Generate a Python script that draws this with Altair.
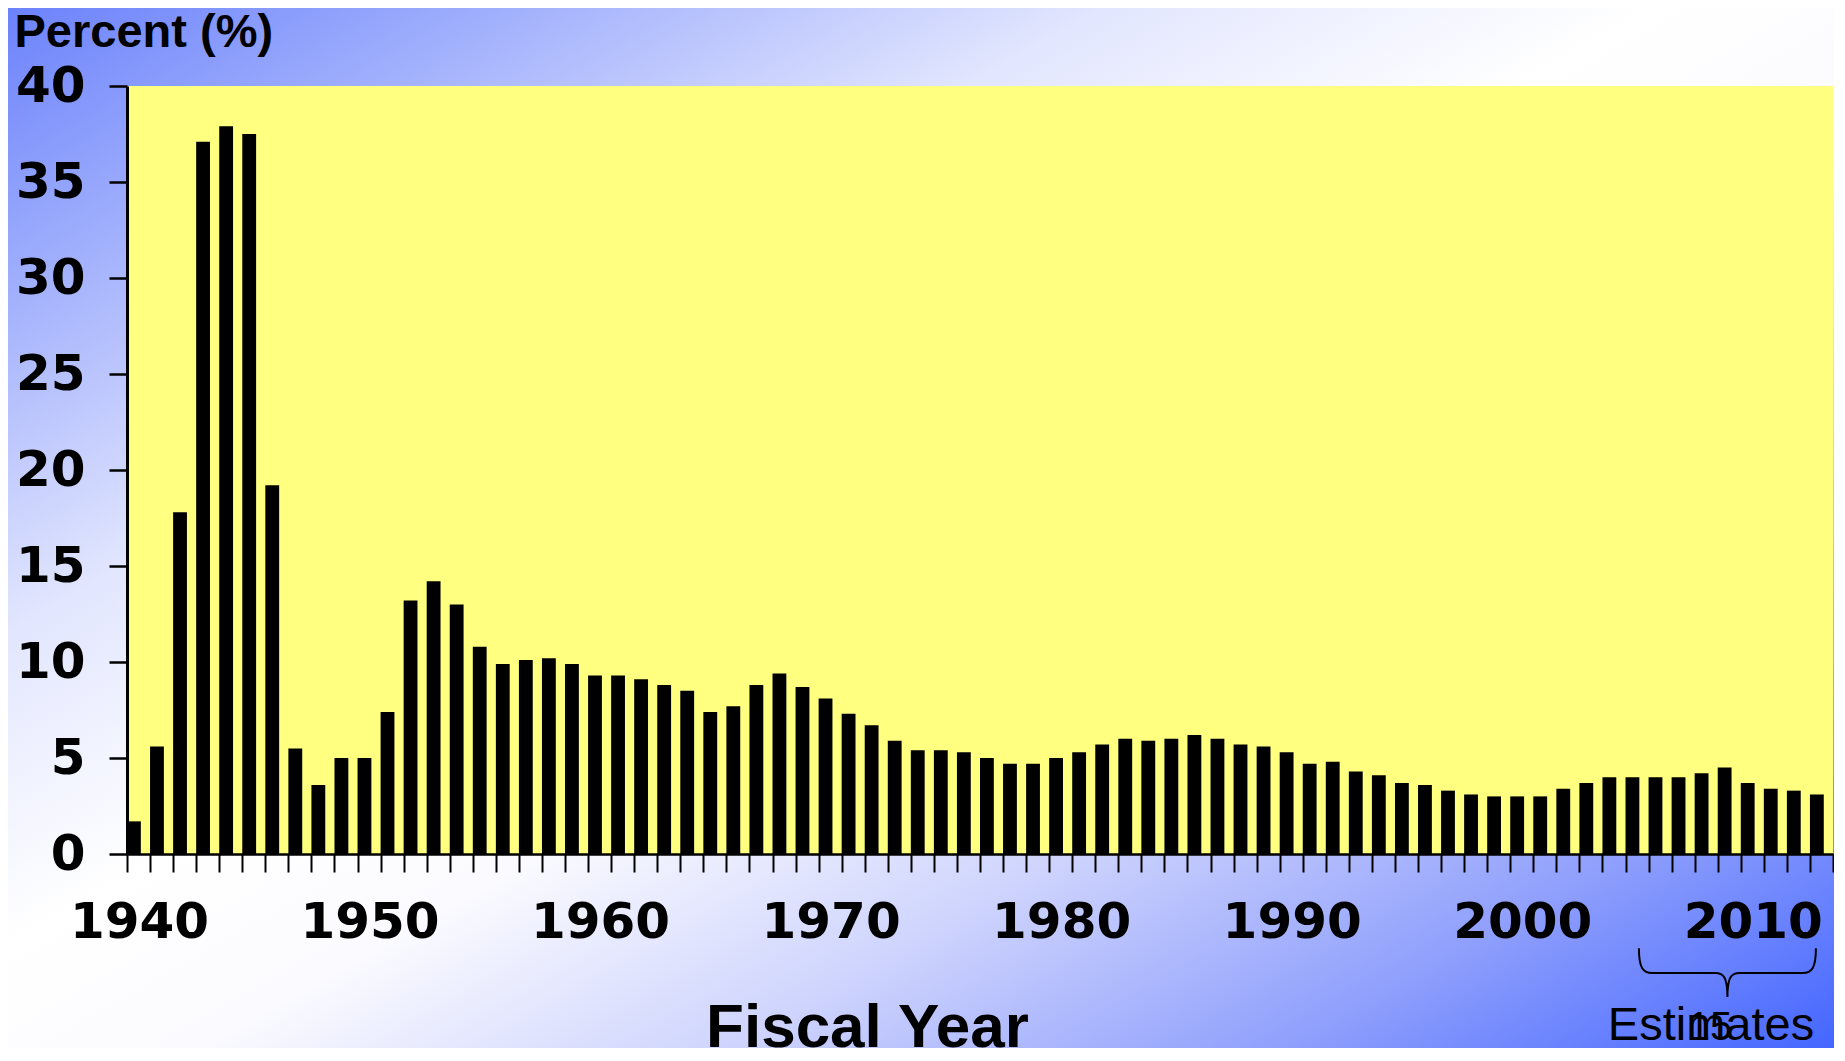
import altair as alt
import pandas as pd

# ---- data ----
years = list(range(1940, 2014))
pct = [1.7, 5.6, 17.8, 37.1, 37.9, 37.5, 19.2, 5.5, 3.6, 5.0,
       5.0, 7.4, 13.2, 14.2, 13.0, 10.8, 9.9, 10.1, 10.2, 9.9,
       9.3, 9.3, 9.1, 8.8, 8.5, 7.4, 7.7, 8.8, 9.4, 8.7,
       8.1, 7.3, 6.7, 5.9, 5.4, 5.4, 5.3, 5.0, 4.7, 4.7,
       5.0, 5.3, 5.7, 6.0, 5.9, 6.0, 6.2, 6.0, 5.7, 5.6,
       5.3, 4.7, 4.8, 4.3, 4.1, 3.7, 3.6, 3.3, 3.1, 3.0,
       3.0, 3.0, 3.4, 3.7, 4.0, 4.0, 4.0, 4.0, 4.2, 4.5,
       3.7, 3.4, 3.3, 3.1]
x_tick_years = list(range(1940, 2015))
y_ticks = list(range(0, 41, 5))
estimates_center_year = [2009.42]

# ---- layout ----
W, H = 1706, 768
PAD_L, PAD_T, PAD_R, PAD_B = 119, 78, 1, 194

df = pd.DataFrame({"year": years, "pct": pct})
df["x0"] = df["year"]
df["x1"] = df["year"] + 0.6

xscale = alt.Scale(domain=[1940, 2014], nice=False, zero=False)
yscale = alt.Scale(domain=[0, 40], nice=False, zero=True)

one = pd.DataFrame({"k": [0]})

grad = alt.Gradient(
    gradient="linear", x1=0, y1=0, x2=1, y2=1,
    stops=[
        alt.GradientStop(color="#6c82fb", offset=0),
        alt.GradientStop(color="#9aaafc", offset=0.12),
        alt.GradientStop(color="#e2e6fe", offset=0.3),
        alt.GradientStop(color="#ffffff", offset=0.45),
        alt.GradientStop(color="#fbfbff", offset=0.55),
        alt.GradientStop(color="#cdd3fd", offset=0.7),
        alt.GradientStop(color="#8f9ffc", offset=0.85),
        alt.GradientStop(color="#4466ff", offset=1),
    ],
)

bg = alt.Chart(one).mark_rect(fill=grad).encode(
    x=alt.value(-PAD_L), x2=alt.value(W + PAD_R),
    y=alt.value(-PAD_T), y2=alt.value(H + PAD_B),
)

plotbg = alt.Chart(one).mark_rect(fill="#ffff80").encode(
    x=alt.value(0), x2=alt.value(W), y=alt.value(0), y2=alt.value(H),
)

xaxis = alt.Axis(
    values=x_tick_years,
    labelExpr="datum.value % 10 == 0 ? '' + datum.value : ''",
    tickSize=18, tickWidth=2, tickColor="black",
    domainColor="black", domainWidth=2.5,
    labelFont="DejaVu Sans", labelFontWeight="bold", labelFontSize=50,
    labelColor="black", labelPadding=25, labelOffset=12,
    labelOverlap=False, labelFlush=False, grid=False,
    title="Fiscal Year", titleFont="Liberation Sans", titleFontSize=62,
    titleFontWeight="bold", titleColor="black",
    titleX=740, titleY=192, titleAlign="center", titleBaseline="alphabetic",
    zindex=1,
)

yaxis = alt.Axis(
    values=y_ticks,
    tickSize=18, tickWidth=2.5, tickColor="black",
    domainColor="black", domainWidth=3,
    labelFont="DejaVu Sans", labelFontWeight="bold", labelFontSize=50,
    labelColor="black", labelPadding=24, labelFlush=False, grid=False,
    title="Percent (%)", titleFont="Liberation Sans", titleFontSize=47,
    titleFontWeight="bold", titleColor="black", titleAngle=0,
    titleAlign="left", titleBaseline="alphabetic", titleX=-113, titleY=-40,
    zindex=1,
)

bars = alt.Chart(df).mark_rect(color="black").encode(
    x=alt.X("x0:Q", scale=xscale, axis=xaxis),
    x2="x1:Q",
    y=alt.Y("pct:Q", scale=yscale, axis=yaxis),
    y2=alt.datum(0),
)

brace_path = ("M -1 -0.28 C -1 -0.05 -0.95 0 -0.85 0 L -0.14 0 "
              "C -0.04 0 0 0.05 0 0.27 C 0 0.05 0.04 0 0.14 0 "
              "L 0.85 0 C 0.95 0 1 -0.05 1 -0.28")

brace = alt.Chart(pd.DataFrame({"x0": estimates_center_year})).mark_point(
    shape=brace_path, size=177 ** 2, filled=False, stroke="black",
    strokeWidth=2, opacity=1,
).encode(
    x=alt.X("x0:Q", scale=xscale, axis=xaxis),
    y=alt.value(887),
)

est = alt.Chart(one).mark_text(
    text="Estimates", font="Liberation Sans", fontSize=47,
    align="center", baseline="alphabetic", color="black",
).encode(x=alt.value(1584), y=alt.value(954))

num = alt.Chart(one).mark_text(
    text="15", font="Liberation Sans", fontSize=40,
    align="center", baseline="alphabetic", color="black",
).encode(x=alt.value(1583), y=alt.value(954))

chart = alt.layer(bg, plotbg, bars, brace, est, num).properties(
    width=W, height=H,
    autosize=alt.AutoSizeParams(type="none"),
    padding={"left": PAD_L, "top": PAD_T, "right": PAD_R, "bottom": PAD_B},
).configure_view(stroke=None).configure(background="white")

chart.save("out.html", embed_options={"renderer": "svg", "actions": False})
